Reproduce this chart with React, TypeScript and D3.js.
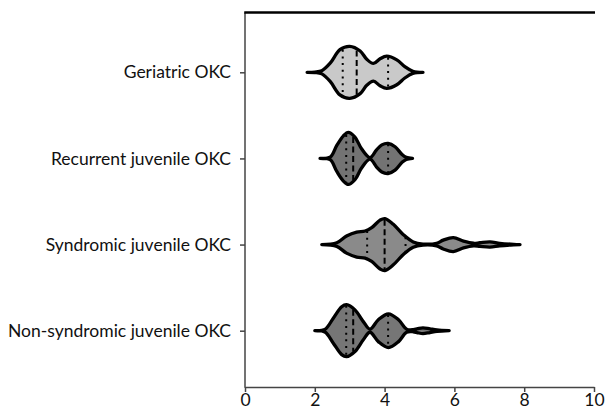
import React, { useRef, useEffect } from "react";
import * as d3 from "d3";

const groups = [
  "Geriatric OKC",
  "Recurrent juvenile OKC",
  "Syndromic juvenile OKC",
  "Non-syndromic juvenile OKC",
];

// [value, relative density]
const geriatricDensity: [number, number][] = [
  [1.78, 0], [2.0, 0.01], [2.2, 0.06], [2.44, 0.35], [2.72, 0.87], [3.0, 1.0],
  [3.3, 0.82], [3.49, 0.5], [3.68, 0.34], [3.87, 0.52], [4.06, 0.62],
  [4.35, 0.48], [4.58, 0.22], [4.81, 0.04], [5.1, 0],
];
const recurrentDensity: [number, number][] = [
  [2.15, 0], [2.44, 0.05], [2.63, 0.5], [2.82, 0.87], [2.96, 1.0], [3.15, 0.82],
  [3.34, 0.37], [3.58, 0.03], [3.77, 0.33], [3.92, 0.52], [4.1, 0.58],
  [4.3, 0.45], [4.5, 0.15], [4.62, 0.04], [4.8, 0],
];
const syndromicDensity: [number, number][] = [
  [2.2, 0], [2.63, 0.07], [2.91, 0.33], [3.2, 0.48], [3.44, 0.52], [3.63, 0.65],
  [3.87, 0.94], [4.01, 1.0], [4.25, 0.78], [4.53, 0.39], [4.82, 0.1],
  [5.1, 0.02], [5.49, 0.05], [5.68, 0.17], [5.97, 0.27], [6.26, 0.13],
  [6.55, 0.05], [6.73, 0.07], [7.02, 0.1], [7.3, 0.05], [7.7, 0.01], [7.88, 0],
];
const nonSyndromicDensity: [number, number][] = [
  [2.0, 0], [2.29, 0.05], [2.53, 0.48], [2.77, 0.92], [2.91, 1.0], [3.15, 0.8],
  [3.39, 0.35], [3.58, 0.06], [3.82, 0.42], [4.11, 0.65], [4.4, 0.42],
  [4.63, 0.06], [4.82, 0.04], [4.95, 0.08], [5.1, 0.11], [5.3, 0.07],
  [5.5, 0.03], [5.85, 0],
];
const densities = [geriatricDensity, recurrentDensity, syndromicDensity, nonSyndromicDensity];

// [first quartile, median, third quartile]
const quartiles = [
  [2.8, 3.2, 4.1],
  [2.9, 3.1, 4.1],
  [3.5, 4.0, 4.6],
  [2.9, 3.1, 4.1],
];

const xTicks = [0, 2, 4, 6, 8, 10];

const fills = ["#c9c9c9", "#737373", "#8a8a8a", "#767676"];
const font = "Lato, 'Open Sans', sans-serif";

const width = 605;
const height = 414;

function halfAt(profile: [number, number][], v: number) {
  const i = d3.bisector((d: [number, number]) => d[0]).left(profile, v);
  if (i <= 0) return profile[0][1];
  if (i >= profile.length) return profile[profile.length - 1][1];
  const a = profile[i - 1];
  const b = profile[i];
  const t = (v - a[0]) / (b[0] - a[0]);
  return a[1] + t * (b[1] - a[1]);
}

const ViolinChart = () => {
  const svgRef = useRef<SVGSVGElement>(null);

  useEffect(() => {
    const svg = d3.select(svgRef.current);
    svg.selectAll("*").remove();

    const left = 245;
    const right = 594;
    const top = 12.5;
    const bottom = 387;

    const x = d3.scaleLinear().domain([0, 10]).range([left, right]);
    const y = d3.scalePoint().domain(groups).range([72.3, 330.7]);
    const w = d3.scaleLinear().domain([0, 1]).range([0, 26]);

    groups.forEach((g, i) => {
      const cy = y(g) as number;
      const profile = densities[i];

      const area = d3
        .area<[number, number]>()
        .x((d) => x(d[0]))
        .y0((d) => cy - w(d[1]))
        .y1((d) => cy + w(d[1]))
        .curve(d3.curveCatmullRom.alpha(0.5));

      svg
        .append("path")
        .attr("d", area(profile))
        .attr("fill", fills[i])
        .attr("stroke", "#000")
        .attr("stroke-width", 3.3)
        .attr("stroke-linejoin", "round");

      quartiles[i].forEach((q, k) => {
        const h = Math.max(0, w(halfAt(profile, q)) - 1);
        svg
          .append("line")
          .attr("x1", x(q))
          .attr("x2", x(q))
          .attr("y1", cy - h)
          .attr("y2", cy + h)
          .attr("stroke", "#000")
          .attr("stroke-width", 2)
          .attr("stroke-dasharray", k === 1 ? "6,3.5" : "2,4.7");
      });
    });

    // X axis
    const xAxis = svg
      .append("g")
      .attr("transform", `translate(0,${bottom})`)
      .call(d3.axisBottom(x).tickValues(xTicks).tickSize(5).tickSizeOuter(0).tickPadding(2));
    xAxis.select(".domain").attr("stroke", "#444").attr("stroke-width", 1.5);
    xAxis.selectAll(".tick line").attr("stroke", "#444").attr("stroke-width", 1.5);
    xAxis
      .selectAll(".tick text")
      .attr("font-size", 17.5)
      .attr("font-family", font)
      .attr("fill", "#111");

    // Y axis
    const yAxis = svg
      .append("g")
      .attr("transform", `translate(${left},0)`)
      .call(d3.axisLeft(y).tickSize(5).tickSizeOuter(0).tickPadding(9));
    yAxis.select(".domain").remove();
    yAxis.selectAll(".tick line").attr("stroke", "#444").attr("stroke-width", 1.5);
    yAxis
      .selectAll(".tick text")
      .attr("font-size", 17.5)
      .attr("font-family", font)
      .attr("fill", "#111");

    svg
      .append("line")
      .attr("x1", left)
      .attr("x2", left)
      .attr("y1", top)
      .attr("y2", bottom + 0.75)
      .attr("stroke", "#444")
      .attr("stroke-width", 1.5);

    // top frame line
    svg
      .append("line")
      .attr("x1", left - 0.75)
      .attr("x2", right + 1)
      .attr("y1", top)
      .attr("y2", top)
      .attr("stroke", "#000")
      .attr("stroke-width", 2.5);
  }, []);

  return (
    <svg
      ref={svgRef}
      width={width}
      height={height}
      style={{ position: "absolute", left: 0, top: 0, background: "#fff" }}
    ></svg>
  );
};

export default function App() {
  return <ViolinChart />;
}
